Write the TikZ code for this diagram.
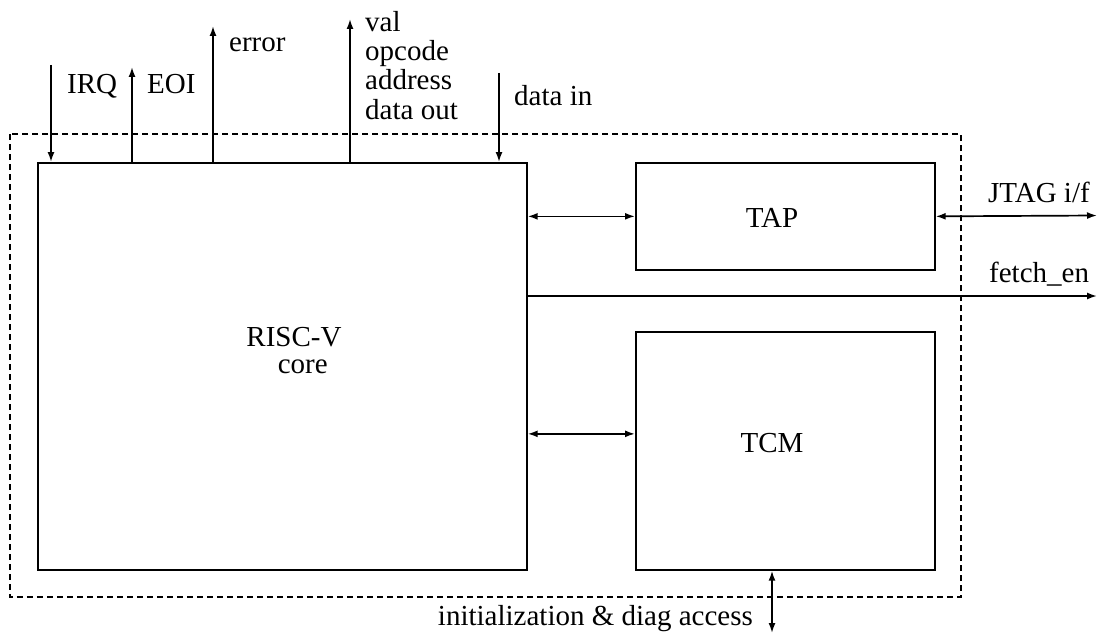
\documentclass[tikz,border=0pt]{standalone}
\usepackage{fontspec}
\setmainfont{Liberation Serif}
\usetikzlibrary{arrows.meta}
\begin{document}
\begin{tikzpicture}[x=1pt,y=-1pt,
  every node/.style={font=\fontsize{29}{29}\selectfont, inner sep=0pt},
  block/.style={draw, line width=1.7pt, anchor=north west},
  tip/.tip={Latex[length=10pt,width=7pt]},
  sig/.style={line width=1.7pt, -tip},
  bisig/.style={line width=1.7pt, tip-tip},
  border/.style={draw, line width=1.4pt, dash pattern=on 6pt off 4pt},
  lbl/.style={anchor=base west}]
\useasboundingbox (0,0) rectangle (1101,634);

% subsystem boundary
\draw[border] (10,134) rectangle (961,597);

% blocks
\node[block, minimum width=489pt, minimum height=407pt] (core) at (37,162) {};
\node[block, minimum width=299pt, minimum height=107pt] (tap) at (635,162) {};
\node[block, minimum width=299pt, minimum height=238pt] (tcm) at (635,331) {};

\node[align=center, font=\fontsize{29}{27}\selectfont] (corename) at (294,351) {RISC-V\\\hspace*{0.6em}core};
\node (tapname) at (772,218) {TAP};
\node (tcmname) at (772,443) {TCM};

% free ends of the external signals
\coordinate (irq) at (51,65);
\coordinate (eoi) at (132,67);
\coordinate (err) at (213,26);
\coordinate (val) at (350,19);
\coordinate (din) at (499,73);
\coordinate (jtag) at (1097,215.5);
\coordinate (fetch) at (1097,296);
\coordinate (diag) at (772,633);
\coordinate (tcmport) at ([yshift=17pt]tcm.west);

% core bus signals
\draw[sig] (irq) -- (core.north -| irq);
\draw[sig] (core.north -| eoi) -- (eoi);
\draw[sig] (core.north -| err) -- (err);
\draw[sig] (core.north -| val) -- (val);
\draw[sig] (din) -- (core.north -| din);

\node[lbl] (irqlbl) at (67,93) {IRQ};
\node[lbl] (eoilbl) at (147,93) {EOI};
\node[lbl] (errlbl) at (229,52) {error};
\node[lbl] (vallbl) at (365,32) {val};
\node[lbl] (opclbl) at (365,61) {opcode};
\node[lbl] (adrlbl) at (365,90) {address};
\node[lbl] (doutlbl) at (365,119) {data out};
\node[lbl] (dinlbl) at (514,106) {data in};

% internal connections
\draw[bisig] (core.east |- tap.west) -- (tap.west);
\draw[bisig] (core.east |- tcmport) -- (tcmport);

% external interfaces
\draw[bisig] (tap.east) -- (jtag);
\draw[sig] (core.east |- fetch) -- (fetch);
\draw[bisig] (tcm.south -| diag) -- (diag);

\node[lbl] (jtaglbl) at (988,202) {JTAG i/f};
\node[lbl] (fetchlbl) at (989,282) {fetch\_en};
\node[anchor=base east] (diaglbl) at (753,625) {initialization \& diag access};
\end{tikzpicture}
\end{document}
